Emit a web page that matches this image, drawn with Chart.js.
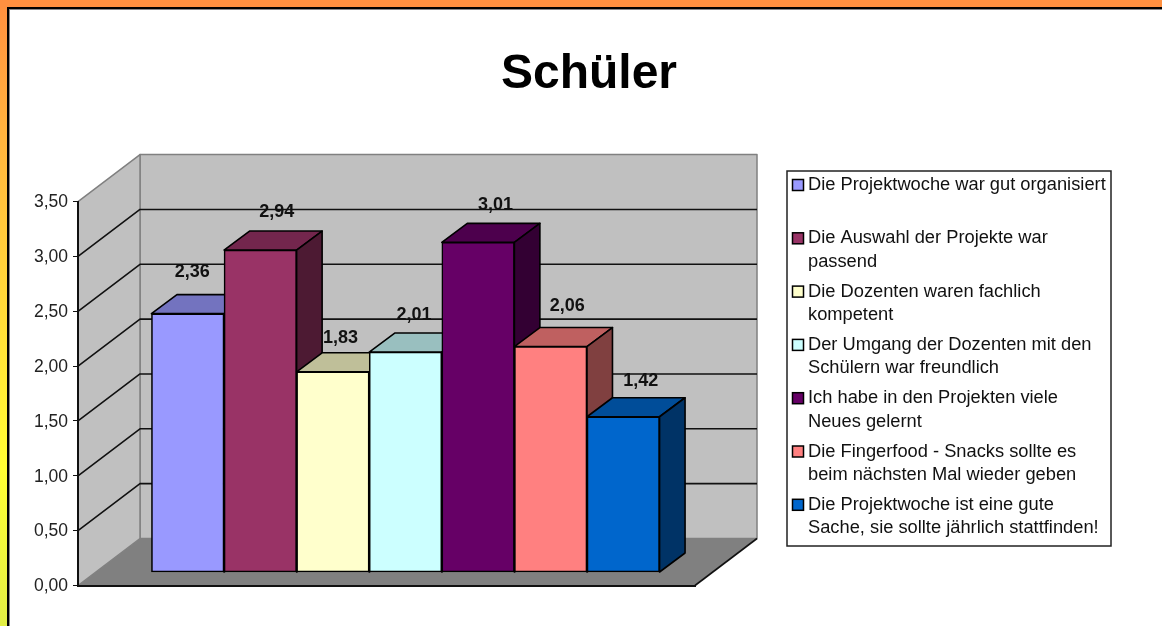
<!DOCTYPE html>
<html>
<head>
<meta charset="utf-8">
<title>Schüler</title>
<script src="https://cdn.jsdelivr.net/npm/chart.js@4/dist/chart.umd.min.js"></script>
<style>
  html, body { margin: 0; height: 100%; overflow: hidden; }
  body { background: linear-gradient(180deg, #ff8f3f 0, #ffb53e 140px, #ffff33 470px, #e2ef45 626px); }
  #topbar { position: absolute; left: 0; top: 0; width: 1162px; height: 7px; background: #ff9040; }
  #panel { position: absolute; left: 7px; top: 7px; width: 1155px; height: 619px; background: #fff;
           border-left: 2px solid #000; border-top: 2px solid #000; box-sizing: border-box; box-shadow: inset 1px 1px 0 #888; }
  #wrap { position: absolute; left: 16px; top: 0; width: 1146px; height: 626px; filter: blur(0.4px); }
</style>
</head>
<body>
<div id="topbar"></div>
<div id="panel"></div>
<div id="wrap"><canvas id="myChart"></canvas></div>
<script>
const chartTitle = 'Schüler'
const values = [2.36, 2.94, 1.83, 2.01, 3.01, 2.06, 1.42]
const valueLabels = ['2,36', '2,94', '1,83', '2,01', '3,01', '2,06', '1,42']
const barColors = ['#9999FF', '#993366', '#FFFFCC', '#CCFFFF', '#660066', '#FF8080', '#0066CC']
const yTickLabels = ['0,00', '0,50', '1,00', '1,50', '2,00', '2,50', '3,00', '3,50']
const legendLines = [
  ['Die Projektwoche war gut organisiert'],
  ['Die Auswahl der Projekte war', 'passend'],
  ['Die Dozenten waren fachlich', 'kompetent'],
  ['Der Umgang der Dozenten mit den', 'Schülern war freundlich'],
  ['Ich habe in den Projekten viele', 'Neues gelernt'],
  ['Die Fingerfood - Snacks sollte es', 'beim nächsten Mal wieder geben'],
  ['Die Projektwoche ist eine gute', 'Sache, sie sollte jährlich stattfinden!']
]

const FONT = '"Liberation Sans", Arial, sans-serif'

// wall depth, bar offset from the front plane, depth of a bar
const WALL = { x: 62, y: 47 }
const BAR_SHIFT = { x: 19, y: 13 }
const BAR_DEPTH = { x: 25.5, y: 19 }
// the value labels were moved by hand in the original
const LABEL_NUDGE = [[5, 42], [17, 38], [8, 34], [9, 37], [18, 37], [17, 41], [18, 36]]

function shade(hex, f) {
  const n = parseInt(hex.slice(1), 16)
  return 'rgb(' + Math.round((n >> 16) * f) + ',' + Math.round(((n >> 8) & 255) * f) + ',' + Math.round((n & 255) * f) + ')'
}

function poly(ctx, pts, fill, stroke, lw) {
  ctx.beginPath()
  pts.forEach((p, i) => i ? ctx.lineTo(p[0], p[1]) : ctx.moveTo(p[0], p[1]))
  ctx.closePath()
  ctx.fillStyle = fill
  ctx.fill()
  if (stroke) {
    ctx.strokeStyle = stroke
    ctx.lineWidth = lw
    ctx.lineJoin = 'round'
    ctx.stroke()
  }
}

const walls = {
  id: 'walls',
  beforeDraw(chart) {
    const ctx = chart.ctx, a = chart.chartArea, y = chart.scales.y
    const bx = WALL.x, by = WALL.y
    ctx.save()
    poly(ctx, [[a.left + bx, a.top - by], [a.right + bx, a.top - by], [a.right + bx, a.bottom - by], [a.left + bx, a.bottom - by]], '#C0C0C0', '#808080', 1.5)
    poly(ctx, [[a.left, a.top], [a.left + bx, a.top - by], [a.left + bx, a.bottom - by], [a.left, a.bottom]], '#C0C0C0', '#808080', 1.5)
    poly(ctx, [[a.left, a.bottom], [a.right, a.bottom], [a.right + bx, a.bottom - by], [a.left + bx, a.bottom - by]], '#808080')
    ctx.strokeStyle = '#111'
    ctx.lineWidth = 1.6
    y.ticks.forEach(t => {
      if (t.value <= 0 || t.value >= 3.5) return
      const py = y.getPixelForValue(t.value)
      ctx.beginPath()
      ctx.moveTo(a.left, py)
      ctx.lineTo(a.left + bx, py - by)
      ctx.lineTo(a.right + bx, py - by)
      ctx.stroke()
    })
    // front right edge of the floor
    ctx.beginPath()
    ctx.moveTo(a.right, a.bottom)
    ctx.lineTo(a.right + bx, a.bottom - by)
    ctx.stroke()
    ctx.restore()
  }
}

const bars3d = {
  id: 'bars3d',
  // own painting so each bar covers the side of the one before it
  beforeDatasetDraw(chart, args) {
    const ctx = chart.ctx
    ctx.save()
    ctx.translate(BAR_SHIFT.x, -BAR_SHIFT.y)
    args.meta.data.forEach((el, i) => {
      const l = el.x - el.width / 2, r = el.x + el.width / 2
      const dx = BAR_DEPTH.x, dy = BAR_DEPTH.y
      poly(ctx, [[l, el.y], [l + dx, el.y - dy], [r + dx, el.y - dy], [r, el.y]], shade(barColors[i], 0.75), '#000', 1.6)
      poly(ctx, [[r, el.y], [r + dx, el.y - dy], [r + dx, el.base - dy], [r, el.base]], shade(barColors[i], 0.5), '#000', 1.6)
      el.draw(ctx)
    })
    ctx.restore()
    return false
  },
  afterDatasetsDraw(chart) {
    const ctx = chart.ctx
    ctx.save()
    ctx.font = 'bold 18px ' + FONT
    ctx.fillStyle = '#111'
    ctx.textAlign = 'center'
    ctx.textBaseline = 'middle'
    chart.getDatasetMeta(0).data.forEach((el, i) => {
      ctx.fillText(valueLabels[i], el.x + BAR_SHIFT.x + LABEL_NUDGE[i][0] - 0.5, el.y - BAR_SHIFT.y - LABEL_NUDGE[i][1])
    })
    ctx.restore()
  }
}

const legendBox = {
  id: 'legendBox',
  afterDraw(chart) {
    const ctx = chart.ctx
    const left = 771, top = 171, width = 324, height = 375
    ctx.save()
    ctx.fillStyle = '#fff'
    ctx.fillRect(left, top, width, height)
    ctx.strokeStyle = '#222'
    ctx.lineWidth = 1.5
    ctx.strokeRect(left, top, width, height)
    ctx.font = '18.3px ' + FONT
    ctx.textBaseline = 'middle'
    legendLines.forEach((lines, i) => {
      const y = 185 + i * 53.3
      ctx.fillStyle = barColors[i]
      ctx.fillRect(left + 5.5, y - 5.5, 11, 11)
      ctx.strokeStyle = '#000'
      ctx.strokeRect(left + 5.5, y - 5.5, 11, 11)
      ctx.fillStyle = '#111'
      lines.forEach((t, k) => ctx.fillText(t, left + 21, y + k * 23.5))
    })
    ctx.restore()
  }
}

new Chart(document.getElementById('myChart'), {
  type: 'bar',
  data: {
    datasets: [{
      data: values.map((v, i) => ({ x: i, y: v })),
      backgroundColor: barColors,
      borderColor: '#000',
      borderWidth: 1.6,
      borderSkipped: false,
      barPercentage: 1,
      categoryPercentage: 1
    }]
  },
  options: {
    responsive: true,
    maintainAspectRatio: false,
    animation: false,
    layout: { padding: { left: 0, right: 0, top: 0, bottom: 40.5 } },
    plugins: {
      legend: { display: false },
      tooltip: { enabled: false },
      title: {
        display: true,
        text: chartTitle,
        color: '#000',
        font: { family: FONT, size: 48, weight: 'bold' },
        padding: { top: 46, bottom: 98 }
      }
    },
    scales: {
      x: {
        type: 'linear',
        offset: false,
        min: -1.25,
        max: 7.25,
        ticks: { display: false },
        grid: { display: false, drawTicks: false },
        border: { display: true, color: '#111', width: 2 }
      },
      y: {
        min: 0,
        max: 3.5,
        afterFit(s) { s.width = 62 },
        ticks: {
          stepSize: 0.5,
          padding: 5,
          labelOffset: 1,
          color: '#222',
          font: { family: FONT, size: 17.5 },
          callback: (v, i) => yTickLabels[i]
        },
        grid: { drawOnChartArea: false, tickLength: 5, tickColor: '#111' },
        border: { display: true, color: '#111', width: 2 }
      },
      // empty axis that keeps room for the legend box, the title still centers on the full width
      spacer: {
        axis: 'y',
        position: 'right',
        min: 0,
        max: 1,
        afterFit(s) { s.width = 467 },
        ticks: { display: false },
        grid: { display: false, drawTicks: false },
        border: { display: false }
      }
    }
  },
  plugins: [walls, bars3d, legendBox]
})
</script>
</body>
</html>
